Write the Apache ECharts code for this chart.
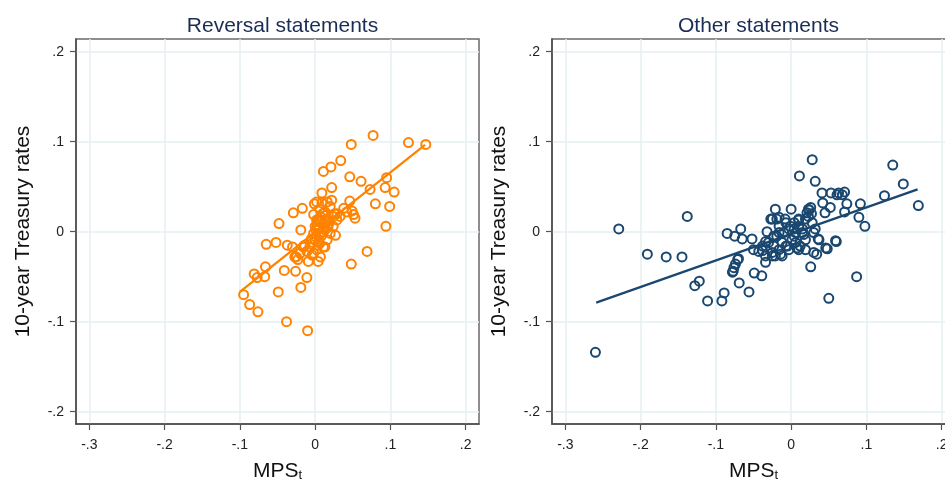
<!DOCTYPE html>
<html>
<head>
<meta charset="utf-8">
<script src="https://cdn.jsdelivr.net/npm/echarts@6/dist/echarts.min.js"></script>
<style>
html,body{margin:0;padding:0;background:#fff;}
#chart{width:945px;height:482px;}
</style>
</head>
<body>
<div id="chart"></div>
<script>
// ---- data ----
const panelTitles = ['Reversal statements', 'Other statements'];
const yAxisTitle = '10-year Treasury rates';
const xTickValues = [-0.3, -0.2, -0.1, 0, 0.1, 0.2];
const yTickValues = [-0.2, -0.1, 0, 0.1, 0.2];

const leftX = [-0.095,-0.087,-0.076,-0.081,-0.077,-0.067,-0.066,-0.065,-0.052,-0.048,-0.049,-0.041,-0.038,-0.037,-0.030,-0.029,-0.026,-0.025,-0.023,-0.020,-0.019,-0.019,-0.017,-0.015,-0.014,-0.011,-0.010,-0.009,-0.004,-0.002,-0.001,0.002,0.004,0.000,0.001,0.004,0.007,0.009,0.011,0.021,0.022,0.022,0.013,0.027,0.034,0.029,0.038,0.046,0.046,0.048,0.049,0.051,0.053,0.048,0.061,0.069,0.073,0.077,0.080,0.093,0.095,0.094,0.099,0.105,0.124,0.147,
  0.009,0.016,0.020,0.013,0.007,0.002,0.000,-0.002,0.004,0.002,-0.002,0.007,0.011,0.016,0.020,0.024,0.029,0.033,0.042,0.024,0.018,0.013,0.009,0.004,0.011,-0.007,-0.011,-0.016,-0.027,0.006,0.015,0.026,0.010,-0.005,0.017,
  0.003,0.008,0.012,0.005,0.014,0.019,0.001,0.006,-0.003,0.010];
const leftY = [-0.070,-0.081,-0.089,-0.047,-0.051,-0.050,-0.039,-0.014,-0.012,0.009,-0.067,-0.043,-0.100,-0.015,-0.017,0.021,-0.044,-0.028,-0.031,-0.024,0.002,-0.062,0.026,-0.017,-0.015,-0.051,-0.110,-0.033,-0.026,0.019,0.031,0.033,-0.033,-0.009,0.002,0.013,-0.002,0.043,0.067,0.072,0.049,0.035,-0.017,-0.004,0.079,0.020,0.026,0.061,0.034,0.097,0.023,0.019,0.015,-0.036,0.056,-0.022,0.047,0.107,0.031,0.049,0.060,0.006,0.028,0.044,0.099,0.097,
  0.032,0.033,0.028,0.022,0.017,0.013,0.006,-0.002,-0.015,-0.020,-0.024,-0.028,-0.017,-0.009,-0.002,0.006,0.013,0.017,0.022,0.017,0.009,0.002,-0.004,0.002,0.009,-0.017,-0.022,-0.017,-0.028,0.025,0.014,0.020,0.000,-0.008,0.005,
  0.008,0.011,0.004,-0.011,0.018,0.012,-0.006,-0.013,-0.012,0.020];

const rightX = [-0.260,-0.229,-0.191,-0.166,-0.145,-0.138,-0.128,-0.122,-0.111,-0.092,-0.089,-0.085,-0.075,-0.078,-0.076,-0.074,-0.071,-0.070,-0.077,-0.067,-0.065,-0.069,-0.056,-0.052,-0.049,-0.050,-0.039,-0.034,-0.038,-0.034,-0.032,-0.027,-0.025,-0.023,-0.021,-0.019,-0.016,-0.014,-0.012,-0.010,-0.008,-0.005,-0.003,0.000,0.001,0.004,0.006,0.008,0.010,0.011,0.012,0.015,0.017,0.019,0.021,0.023,0.026,0.026,0.028,0.030,0.030,0.032,0.034,0.036,0.041,0.042,0.045,0.048,0.050,0.052,0.053,0.059,0.061,0.063,0.068,0.071,0.071,0.074,0.087,0.090,0.092,0.098,0.124,0.135,0.149,0.169,
  -0.025,-0.019,-0.016,-0.007,0.004,0.010,0.015,0.019,0.006,-0.003,-0.016,-0.025,-0.034,-0.043,-0.038,-0.030,-0.021,-0.012,0.010,0.019,0.023,0.028,0.032,0.037,0.010,0.004,-0.001,-0.007,-0.016,-0.023,0.060,0.046,0.024,0.027];
const rightY = [-0.134,0.003,-0.025,-0.028,-0.028,0.017,-0.060,-0.055,-0.077,-0.077,-0.068,-0.002,-0.005,-0.045,-0.040,-0.036,-0.031,-0.030,-0.044,0.003,-0.008,-0.057,-0.067,-0.008,-0.046,-0.020,-0.049,-0.034,-0.021,-0.011,0.000,0.014,-0.027,-0.016,0.025,-0.005,0.016,-0.025,-0.012,-0.001,0.014,-0.016,0.003,0.025,-0.009,0.010,-0.001,-0.018,0.013,0.062,-0.016,0.003,-0.003,0.014,0.021,0.025,0.027,-0.039,0.080,-0.001,-0.023,0.056,-0.025,-0.008,0.043,0.032,0.021,-0.019,-0.074,0.027,0.043,-0.010,0.041,0.043,0.041,0.044,0.022,0.031,-0.050,0.016,0.031,0.006,0.040,0.074,0.053,0.029,
  0.014,0.014,-0.001,-0.016,0.003,0.006,-0.001,-0.009,-0.012,-0.020,-0.020,-0.023,-0.027,-0.022,-0.016,-0.012,-0.027,-0.027,-0.020,-0.020,0.017,0.010,0.003,-0.009,0.014,-0.005,0.006,0.010,0.006,-0.005,-0.011,-0.018,0.024,0.020];

// fitted-line endpoints
const fitLeftX = [-0.0996, 0.146];
const fitLeftY = [-0.0667, 0.0964];
const fitRightX = [-0.259, 0.168];
const fitRightY = [-0.0789, 0.047];

const colorOrange = '#ff8200';
const colorNavy = '#1a476f';

// ---- build chart ----
const zip = (a, b) => a.map((v, i) => [v, b[i]]);
const fmt = v => {
  if (Math.abs(v) < 1e-9) return '0';
  return (v < 0 ? '-' : '') + '.' + Math.round(Math.abs(v) * 10);
};

const grids = [
  { left: 76, width: 403, top: 39, height: 385 },
  { left: 552, width: 403, top: 39, height: 385 }
];

function xAxisFor(i) {
  return {
    type: 'value', gridIndex: i, min: -0.3177, max: 0.2177,
    name: '{a|MPS}{t|t}', nameLocation: 'middle', nameGap: 37,
    nameTextStyle: {
      rich: {
        a: { fontSize: 21, color: '#111', fontFamily: 'Liberation Sans, Arial, sans-serif', verticalAlign: 'bottom' },
        t: { fontSize: 13, color: '#111', fontFamily: 'Liberation Sans, Arial, sans-serif', verticalAlign: 'bottom' }
      }
    },
    axisLine: { show: true, onZero: false, lineStyle: { color: '#4a4a4a', width: 1.5 } },
    axisTick: { show: true, length: 6, customValues: xTickValues, lineStyle: { color: '#555', width: 1.2 } },
    axisLabel: { customValues: xTickValues, formatter: fmt, margin: 14, fontSize: 14, color: '#222', fontFamily: 'Liberation Sans, Arial, sans-serif' },
    splitLine: { show: true, lineStyle: { color: '#e6eff2', width: 1.5 } }
  };
}
function yAxisFor(i) {
  return {
    type: 'value', gridIndex: i, min: -0.2137, max: 0.2141,
    name: yAxisTitle, nameLocation: 'middle', nameGap: 42, nameRotate: 90,
    nameTextStyle: { fontSize: 21, color: '#111', fontFamily: 'Liberation Sans, Arial, sans-serif' },
    axisLine: { show: true, onZero: false, lineStyle: { color: '#4a4a4a', width: 1.5 } },
    axisTick: { show: true, length: 6, customValues: yTickValues, lineStyle: { color: '#555', width: 1.2 } },
    axisLabel: { customValues: yTickValues, formatter: fmt, margin: 12, fontSize: 14, color: '#222', fontFamily: 'Liberation Sans, Arial, sans-serif' },
    splitLine: { show: true, lineStyle: { color: '#e6eff2', width: 1.5 } }
  };
}

function scatter(i, xs, ys, color) {
  return {
    type: 'scatter', xAxisIndex: i, yAxisIndex: i, data: zip(xs, ys),
    symbol: 'circle', symbolSize: 9,
    itemStyle: { color: 'rgba(0,0,0,0)', borderColor: color, borderWidth: 2, opacity: 1 },
    emphasis: { disabled: true }, silent: true, z: 2
  };
}
function fit(i, xs, ys, color) {
  return {
    type: 'line', xAxisIndex: i, yAxisIndex: i, data: zip(xs, ys),
    showSymbol: false, symbol: 'none', silent: true,
    lineStyle: { color: color, width: 2.3 }, z: 3
  };
}

const chart = echarts.init(document.getElementById('chart'), null, { renderer: 'canvas' });
chart.setOption({
  animation: false,
  backgroundColor: '#fff',
  title: panelTitles.map((t, i) => ({
    text: t, left: grids[i].left + grids[i].width / 2, top: 11, textAlign: 'center',
    textStyle: { fontSize: 21, fontWeight: 'normal', color: '#1c2d55', fontFamily: 'Liberation Sans, Arial, sans-serif' }
  })),
  grid: grids.map(g => Object.assign({ show: true, borderColor: '#6a6a6a', borderWidth: 1.5, backgroundColor: '#fff', containLabel: false, outerBoundsMode: 'none' }, g)),
  xAxis: [xAxisFor(0), xAxisFor(1)],
  yAxis: [yAxisFor(0), yAxisFor(1)],
  series: [
    scatter(0, leftX, leftY, colorOrange),
    fit(0, fitLeftX, fitLeftY, colorOrange),
    scatter(1, rightX, rightY, colorNavy),
    fit(1, fitRightX, fitRightY, colorNavy)
  ]
});
</script>
</body>
</html>
